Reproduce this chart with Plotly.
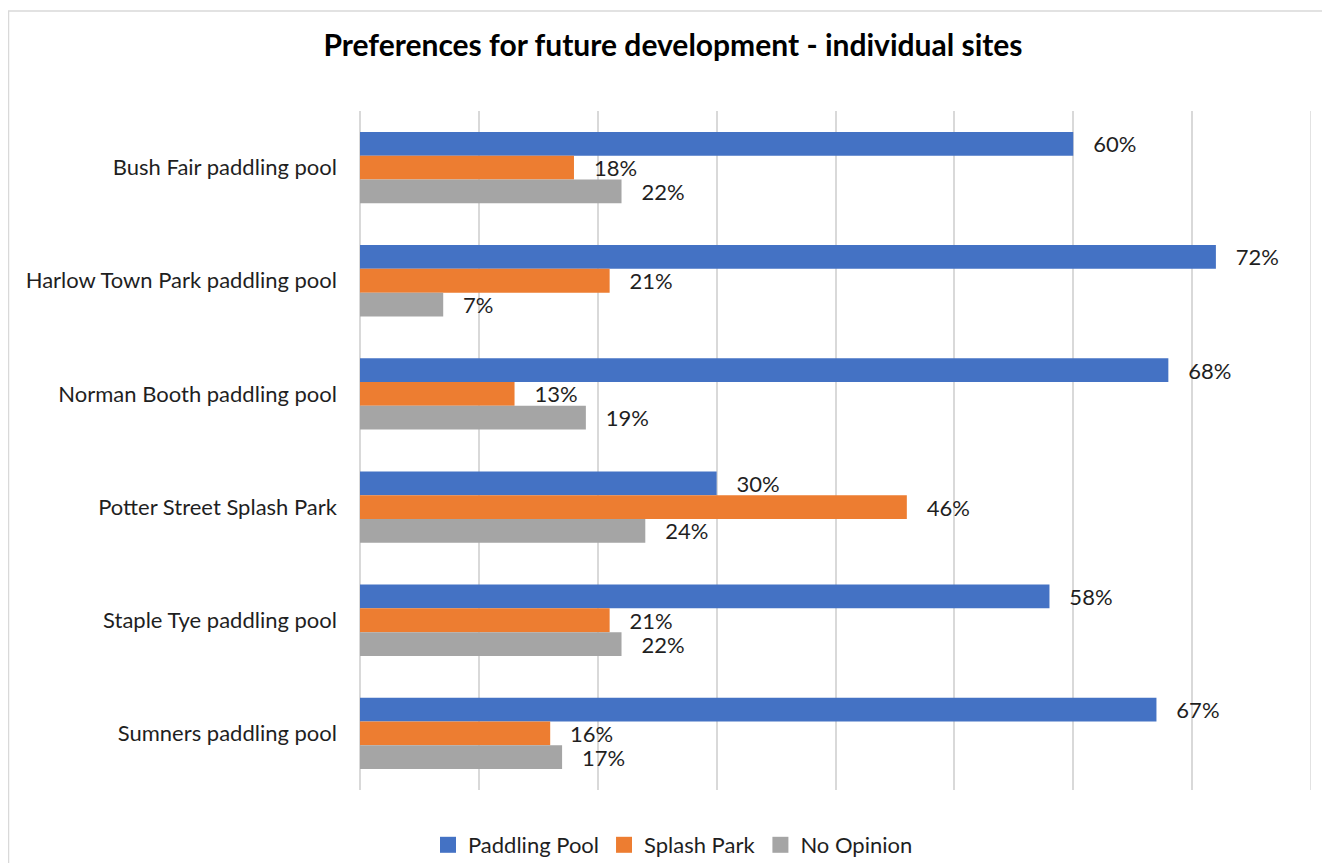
import plotly.graph_objects as go

categories = [
    "Bush Fair paddling pool",
    "Harlow Town Park paddling pool",
    "Norman Booth paddling pool",
    "Potter Street Splash Park",
    "Staple Tye paddling pool",
    "Sumners paddling pool",
]
paddling_pool = [60, 72, 68, 30, 58, 67]
splash_park = [18, 21, 13, 46, 21, 16]
no_opinion = [22, 7, 19, 24, 22, 17]

series_names = ["Paddling Pool", "Splash Park", "No Opinion"]
series_values = [paddling_pool, splash_park, no_opinion]
series_colors = ["#4472C4", "#ED7D31", "#A5A5A5"]

X_MAX = 0.8

FONT = "Lato"
FS = 22
TXT = "#1F1F1F"
GRID = "#D9D9D9"

fig = go.Figure()
for name, vals, color in zip(series_names, series_values, series_colors):
    fig.add_trace(go.Bar(
        y=categories,
        x=[v / 100 for v in vals],
        name=name,
        orientation="h",
        marker=dict(color=color, line=dict(width=0)),
        text=["\u00a0\u00a0\u00a0" + f"{v}%" for v in vals],
        textposition="outside",
        constraintext="none",
        cliponaxis=False,
        textfont=dict(family=FONT, size=FS, color=TXT),
        hoverinfo="skip",
        showlegend=False,
    ))

# legend entries with larger square swatches
for name, color in zip(series_names, series_colors):
    fig.add_trace(go.Scatter(
        x=[None], y=[None], mode="markers", name=name,
        marker=dict(symbol="square", size=18, color=color),
        showlegend=True, hoverinfo="skip",
    ))

OFF = 8  # page body margin
W, H = 1330 - OFF, 863 - OFF
px0, px1 = 360 - OFF, 1311 - OFF
py0, py1 = 111 - OFF, 790 - OFF
L, R, T, B = px0, W - px1, py0, H - py1
pw, ph = px1 - px0, py1 - py0

fig.update_layout(
    width=W, height=H,
    barmode="group",
    bargap=0.37,
    bargroupgap=0,
    plot_bgcolor="white",
    paper_bgcolor="white",
    margin=dict(l=L, r=R, t=T, b=B, autoexpand=False),
    font=dict(family=FONT, size=FS, color=TXT),
    title=dict(
        text="<b>Preferences for future development - individual sites</b>",
        x=(673 - OFF) / W, xanchor="center",
        y=1 - (45 - OFF) / H, yanchor="middle",
        font=dict(family=FONT, size=30, color="#000000"),
    ),
    xaxis=dict(
        range=[0, X_MAX], dtick=0.1, tick0=0,
        showticklabels=False, showgrid=True,
        gridcolor=GRID, gridwidth=1.5,
        zeroline=True, zerolinecolor=GRID, zerolinewidth=1.5,
        showline=False, fixedrange=True,
    ),
    yaxis=dict(
        autorange="reversed",
        showgrid=False, zeroline=False, showline=False,
        ticks="", ticklabelstandoff=22,
        tickfont=dict(family=FONT, size=FS, color=TXT),
    ),
    legend=dict(
        orientation="h",
        x=(673 - OFF - L) / pw, xanchor="center",
        y=-((845 - OFF) - py1) / ph, yanchor="middle",
        font=dict(family=FONT, size=FS, color=TXT),
        traceorder="normal",
        itemwidth=30,
    ),
    showlegend=True,
)

# gridline at the far end of the value axis (plotly omits it at the range edge)
fig.add_shape(
    type="line", xref="x", yref="paper",
    x0=X_MAX, x1=X_MAX, y0=0, y1=1,
    line=dict(color=GRID, width=1.5), layer="below",
)

# light chart-area border (extends beyond the visible page like the reference)
fig.add_shape(
    type="rect", xref="paper", yref="paper",
    x0=((8 - OFF) - L) / pw + 0.5 / pw, x1=(W + 20 - L) / pw,
    y0=-(H + 20 - py1) / ph, y1=1 + (py0 - (11 - OFF)) / ph,
    line=dict(color=GRID, width=1.5),
    fillcolor="rgba(0,0,0,0)", layer="below",
)

fig.write_html("out.html")
